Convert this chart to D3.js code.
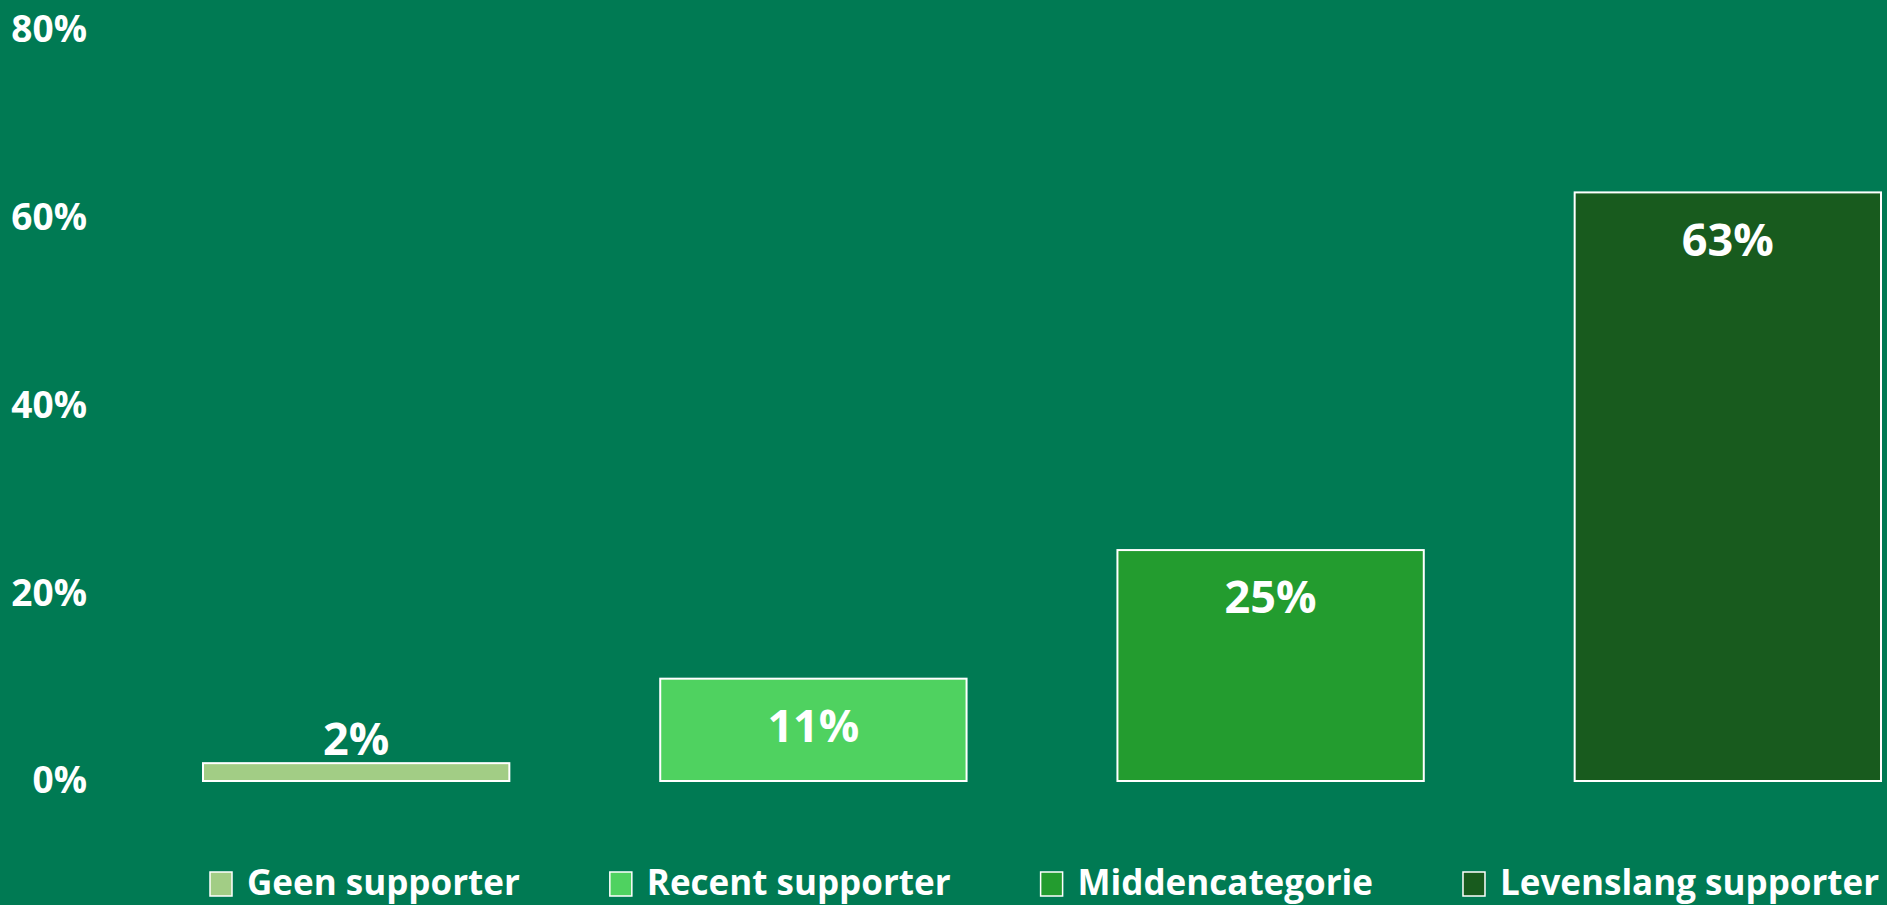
<!DOCTYPE html>
<html>
<head>
<meta charset="utf-8">
<script src="https://cdn.jsdelivr.net/npm/d3@7"></script>
<style>
  body { margin: 0; background: #007a53; overflow: hidden; }
  svg { display: block; font-family: "Open Sans", sans-serif; font-weight: bold; }
</style>
</head>
<body>
<svg id="chart"></svg>
<script>
// Data
const categories = ['Geen supporter', 'Recent supporter', 'Middencategorie', 'Levenslang supporter'];
const values = [1.9, 10.9, 24.6, 62.7];
const colors = ['#a2cd85', '#4fd260', '#239c2f', '#185b1e'];
const yTicks = [0, 20, 40, 60, 80];

window.addEventListener('load', () => {
    const width = 1887;
    const height = 905;

    const svg = d3.select('#chart')
        .attr('width', width)
        .attr('height', height);

    // Scales
    const xScale = d3.scaleBand()
        .domain(categories)
        .range([203, 1881])
        .paddingInner(0.33)
        .paddingOuter(0);
    const yScale = d3.scaleLinear()
        .domain([0, 80])
        .range([781, 30]);

    // Y axis (labels only)
    const yAxis = d3.axisLeft(yScale)
        .tickValues(yTicks)
        .tickSize(0)
        .tickPadding(0)
        .tickFormat(d => d + '%');
    const yAxisGroup = svg.append('g')
        .attr('transform', 'translate(87,0)')
        .call(yAxis);
    yAxisGroup.select('.domain').remove();
    yAxisGroup.selectAll('text')
        .attr('fill', '#fff')
        .style('font-family', '"Open Sans", sans-serif')
        .style('font-weight', 'bold')
        .style('font-size', '37px');

    // Bars
    svg.selectAll('rect.bar')
        .data(values)
        .enter().append('rect')
        .attr('class', 'bar')
        .attr('x', (d, i) => xScale(categories[i]))
        .attr('y', d => yScale(d))
        .attr('width', xScale.bandwidth())
        .attr('height', d => yScale(0) - yScale(d))
        .attr('fill', (d, i) => colors[i])
        .attr('stroke', '#fff')
        .attr('stroke-width', 2);

    // Value labels
    svg.selectAll('text.value')
        .data(values)
        .enter().append('text')
        .attr('class', 'value')
        .attr('x', (d, i) => xScale(categories[i]) + xScale.bandwidth() / 2)
        .attr('y', d => {
            const top = yScale(d);
            return (yScale(0) - top) > 60 ? top + 47 : top - 24;
        })
        .attr('dy', '0.36em')
        .attr('text-anchor', 'middle')
        .attr('fill', '#fff')
        .style('font-size', '45px')
        .text(d => Math.round(d) + '%');

    // Legend
    const legend = svg.append('g');
    let lx = 210;
    categories.forEach((c, i) => {
        const item = legend.append('g').attr('transform', `translate(${lx},0)`);
        item.append('rect')
            .attr('x', 0)
            .attr('y', 872)
            .attr('width', 22)
            .attr('height', 24)
            .attr('fill', colors[i])
            .attr('stroke', '#fff')
            .attr('stroke-width', 1.5);
        const t = item.append('text')
            .attr('x', 37)
            .attr('y', 895)
            .attr('fill', '#fff')
            .style('font-size', '35px')
            .text(c);
        lx += 37 + t.node().getComputedTextLength() + 90;
    });
});
</script>
</body>
</html>
